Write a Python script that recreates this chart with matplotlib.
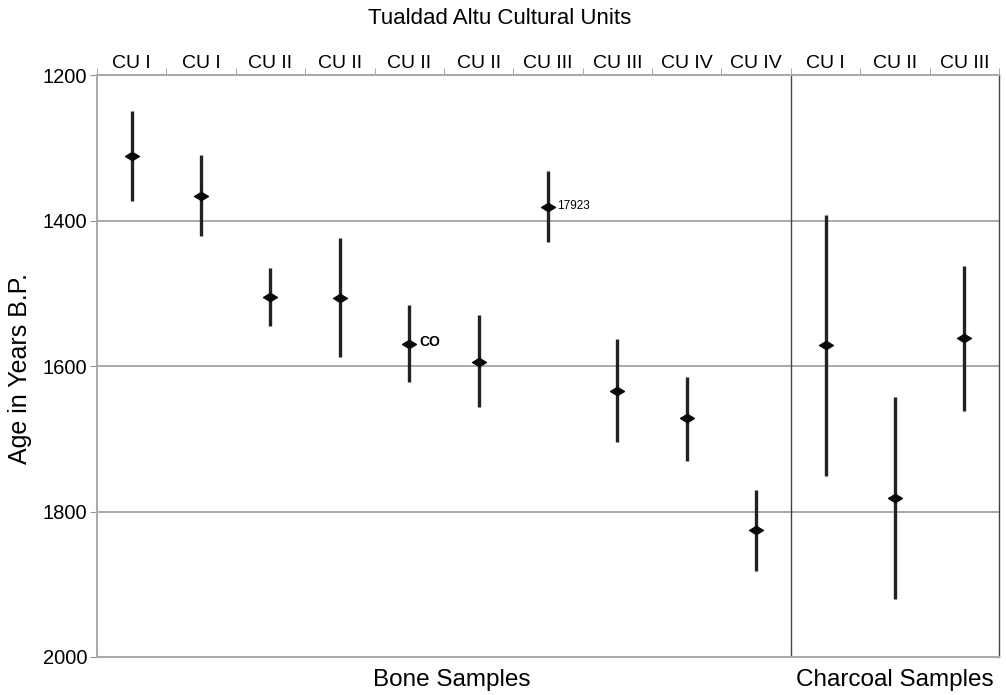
import numpy as np
import matplotlib.pyplot as plt
from matplotlib.path import Path

plt.rcParams['font.family'] = ['Liberation Sans', 'DejaVu Sans']

units = ['CU I', 'CU I', 'CU II', 'CU II', 'CU II', 'CU II', 'CU III', 'CU III',
         'CU IV', 'CU IV', 'CU I', 'CU II', 'CU III']
age = [1311, 1366, 1505, 1507, 1570, 1594, 1381, 1634, 1671, 1825, 1571, 1781, 1561]
age_low = [1249, 1310, 1465, 1424, 1516, 1530, 1332, 1563, 1615, 1770, 1392, 1643, 1462]
age_high = [1373, 1421, 1545, 1588, 1622, 1656, 1430, 1704, 1731, 1882, 1751, 1920, 1662]
n_bone = 10

x = np.arange(len(units))
age = np.array(age)
yerr = [age - np.array(age_low), np.array(age_high) - age]

# flat diamond marker
flat_diamond = Path([(-1, 0), (0, 0.6), (1, 0), (0, -0.6), (-1, 0)],
                    [Path.MOVETO, Path.LINETO, Path.LINETO, Path.LINETO, Path.CLOSEPOLY])

fig = plt.figure(figsize=(10.06, 6.95), dpi=100)
ax = fig.add_axes([97 / 1006, 1 - 657 / 695, 902 / 1006, 582 / 695])

ax.errorbar(x, age, yerr=yerr, fmt='none', ecolor='#222222',
            elinewidth=2.4, capsize=0, zorder=3)
ax.plot(x, age, ls='none', marker=flat_diamond, markersize=10,
        color='#0a0a0a', zorder=4)

ax.set_ylim(2000, 1200)
ax.set_xlim(-0.5, len(units) - 0.5)
ax.set_yticks([1200, 1400, 1600, 1800, 2000])
for v in [1400, 1600, 1800]:
    ax.axhline(v, color='#aaaaaa', lw=1.4, zorder=1)
ax.axvline(n_bone - 0.5, color='#444444', lw=1, zorder=2)

# top category labels
ax.xaxis.tick_top()
ax.set_xticks(x)
ax.set_xticklabels(units, fontsize=14)
ax.set_xticks(np.arange(-0.5, len(units)), minor=True)
ax.tick_params(axis='x', which='major', length=0, pad=2)
ax.tick_params(axis='x', which='minor', length=5, color='#999999', top=True, bottom=False)
ax.tick_params(axis='y', length=5, color='#999999', labelsize=14.5, pad=2)

for s in ['left', 'top', 'bottom']:
    ax.spines[s].set_color('#aaaaaa')
    ax.spines[s].set_linewidth(1.5)
ax.spines['right'].set_color('#444444')
ax.spines['right'].set_linewidth(1)

ax.text(x[4] + 0.15, 1567, 'CO', fontsize=10, fontweight='bold', va='center', ha='left')
ax.text(x[6] + 0.13, 1380, '17923', fontsize=8.5, va='center', ha='left')

fig.text(500 / 1006, 1 - 18 / 695, 'Tualdad Altu Cultural Units', ha='center', va='center', fontsize=16)
fig.text(20 / 1006, 1 - 368 / 695, 'Age in Years B.P.', ha='center', va='center',
         rotation=90, fontsize=18)
fig.text(452 / 1006, 1 - 680 / 695, 'Bone Samples', ha='center', va='center', fontsize=17.5)
fig.text(895 / 1006, 1 - 680 / 695, 'Charcoal Samples', ha='center', va='center', fontsize=17.5)

fig.savefig('out.png', dpi=100)
